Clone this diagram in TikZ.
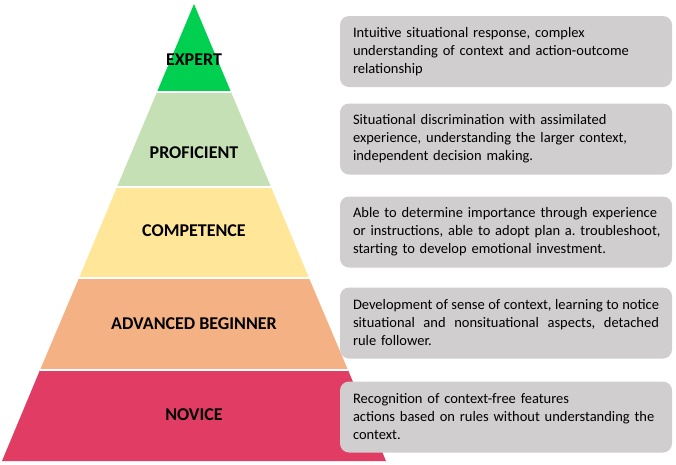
\documentclass[tikz,border=0pt]{standalone}
\usepackage{fontspec}
\setmainfont{Carlito}
\usetikzlibrary{positioning}
\hyphenpenalty=10000
\frenchspacing

\definecolor{expertgreen}{HTML}{00CF4F}
\definecolor{profgreen}{HTML}{C5E0B4}
\definecolor{compyellow}{HTML}{FFE699}
\definecolor{advorange}{HTML}{F4B183}
\definecolor{novicered}{HTML}{E13C63}
\definecolor{boxgray}{HTML}{D0CECE}

\begin{document}
\begin{tikzpicture}[x=1pt, y=-1pt, every node/.style={align=center}]

% styles
\tikzset{
  level/.style={font=\fontsize{18}{20}\selectfont\bfseries, text=black, inner sep=0pt},
  desc/.style={rectangle, rounded corners=9pt, fill=boxgray, minimum width=332pt, minimum height=71pt, text width=306pt, inner xsep=13pt, align=left, font=\fontsize{14.5}{18}\selectfont},
  gap/.style={white, line width=2pt}
}

\useasboundingbox (0,0) rectangle (676,464);

% pyramid corners (apex at 194,4; base 2..386 at y=461)
\coordinate (top) at (194,4);
\coordinate (l1) at (157,92);  \coordinate (r1) at (231,92);
\coordinate (l2) at (117,187); \coordinate (r2) at (271,187);
\coordinate (l3) at (79,278);  \coordinate (r3) at (309,278);
\coordinate (l4) at (40,370);  \coordinate (r4) at (348,370);
\coordinate (l5) at (2,461);   \coordinate (r5) at (386,461);

% bands
\fill[expertgreen] (top) -- (r1) -- (l1) -- cycle;
\fill[profgreen] (l1) -- (r1) -- (r2) -- (l2) -- cycle;
\fill[compyellow] (l2) -- (r2) -- (r3) -- (l3) -- cycle;
\fill[advorange] (l3) -- (r3) -- (r4) -- (l4) -- cycle;
\fill[novicered] (l4) -- (r4) -- (r5) -- (l5) -- cycle;

% white seams between the bands
\draw[gap] (l1) -- (r1);
\draw[gap] (l2) -- (r2);
\draw[gap] (l3) -- (r3);
\draw[gap] (l4) -- (r4);

% level names
\node[level] (expert) at (194,60) {EXPERT};
\node[level] (proficient) at (194,153) {PROFICIENT};
\node[level] (competence) at (194,231) {COMPETENCE};
\node[level] (advanced) at (194,324) {ADVANCED BEGINNER};
\node[level] (novice) at (194,415) {NOVICE};

% descriptions
\node[desc] (dexpert) at (506,51.5) {Intuitive situational response, complex\\understanding of context and action-outcome\\relationship};
\node[desc] (dproficient) at (506,139) {Situational discrimination with assimilated\\experience, understanding the larger context,\\independent decision making.};
\node[desc] (dcompetence) at (506,232) {\mbox{Able to determine importance through experience}\\\mbox{or instructions, able to adopt plan a. troubleshoot,}\\starting to develop emotional investment.};
\node[desc] (dadvanced) at (506,323) {\makebox[306pt][l]{Development\hfill of\hfill sense\hfill of\hfill context,\hfill learning\hfill to\hfill notice}\\\makebox[306pt][l]{situational\hfill and\hfill nonsituational\hfill aspects,\hfill detached}\\rule follower.};
\node[desc] (dnovice) at (506,417) {Recognition of context-free features\\actions based on rules without understanding the\\context.};

\end{tikzpicture}
\end{document}
